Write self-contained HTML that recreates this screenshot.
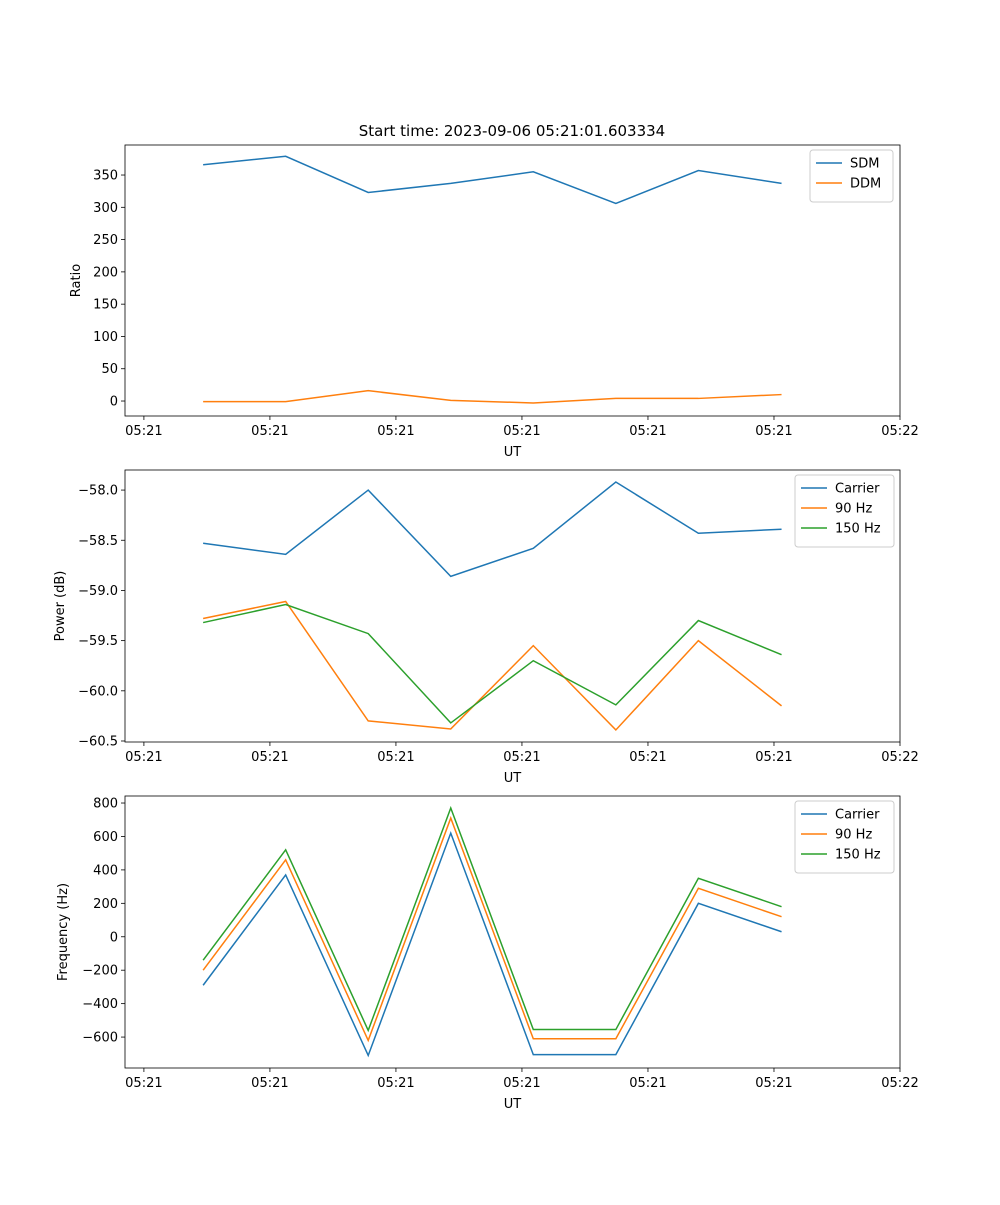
<!DOCTYPE html>
<html><head><meta charset="utf-8"><style>
body{margin:0;background:#fff;font-family:"Liberation Sans","DejaVu Sans",sans-serif}
svg text{font-family:"DejaVu Sans","Liberation Sans",sans-serif;font-size:13px;fill:#000}
</style></head><body>
<svg id="chart" width="1000" height="1200" xmlns="http://www.w3.org/2000/svg"></svg>
<script>
const times=[4.7,11.25,17.8,24.35,30.9,37.45,44.0,50.6];
const xTicks=[0,10,20,30,40,50,60];
const xTickLabels=["05:21","05:21","05:21","05:21","05:21","05:21","05:22"];
const sdm=[366,379,323,337,355,306,357,337];
const ddm=[-1,-1,16,1,-3,4,4,10];
const pCarrier=[-58.53,-58.64,-58.00,-58.86,-58.58,-57.92,-58.43,-58.39];
const p90=[-59.28,-59.11,-60.30,-60.38,-59.55,-60.39,-59.50,-60.15];
const p150=[-59.32,-59.14,-59.43,-60.32,-59.70,-60.14,-59.30,-59.64];
const fCarrier=[-290,370,-710,620,-705,-705,200,30];
const f90=[-200,460,-620,710,-610,-610,290,120];
const f150=[-140,520,-560,770,-555,-555,350,180];
const ratioTicks=[0,50,100,150,200,250,300,350];
const powerTicks=[-60.5,-60.0,-59.5,-59.0,-58.5,-58.0];
const powerLabels=["\u221260.5","\u221260.0","\u221259.5","\u221259.0","\u221258.5","\u221258.0"];
const freqTicks=[-600,-400,-200,0,200,400,600,800];
const freqLabels=["\u2212600","\u2212400","\u2212200","0","200","400","600","800"];

const svg=document.getElementById('chart');
const NS="http://www.w3.org/2000/svg";
function el(tag,attrs,parent){const e=document.createElementNS(NS,tag);for(const k in attrs)e.setAttribute(k,attrs[k]);(parent||svg).appendChild(e);return e;}
const L=125,R=900,xmin=-1.5,xmax=60;
const xs=t=>L+(t-xmin)/(xmax-xmin)*(R-L);
const C1="#1f77b4",C2="#ff7f0e",C3="#2ca02c";

function panel(name,top,bot,ymin,ymax,yt,ytl,ylabel,series,legW,legX){
  const g=el('g',{});
  
  
  const ys=v=>bot-(v-ymin)/(ymax-ymin)*(bot-top);
  xTicks.forEach((t,i)=>{const x=xs(t);
    const l=el('line',{x1:x,x2:x,y1:bot,y2:bot+4,stroke:'#000','stroke-width':0.8},g);
    
    const tx=el('text',{x:x,y:bot+19,'text-anchor':'middle'},g);tx.textContent=xTickLabels[i];
    });
  yt.forEach((v,i)=>{const y=ys(v);
    el('line',{x1:L-4,x2:L,y1:y,y2:y,stroke:'#000','stroke-width':0.8},g);
    const tx=el('text',{x:L-7,y:y+4.5,'text-anchor':'end'},g);tx.textContent=ytl[i];
    });
  const xl=el('text',{x:(L+R)/2,y:bot+40,'text-anchor':'middle'},g);xl.textContent='UT';
  
  const yl=el('text',{x:0,y:0,'text-anchor':'middle',transform:`translate(${ylabel[1]},${(top+bot)/2}) rotate(-90)`},g);yl.textContent=ylabel[0];
  
  series.forEach(s=>{
    const p=el('polyline',{points:s.v.map((v,i)=>xs(times[i])+','+ys(v)).join(' '),fill:'none',stroke:s.c,'stroke-width':1.5},g);
    });
  el('rect',{x:L,y:top,width:R-L,height:bot-top,fill:'none',stroke:'#000','stroke-width':0.8},g);
  const lg=el('g',{},g);
  
  el('rect',{x:legX,y:top+5,width:legW,height:series.length*20+12,fill:'#fff',stroke:'#ccc',rx:3},lg);
  series.forEach((s,i)=>{const y=top+18+i*20;
    el('line',{x1:legX+6,x2:legX+32,y1:y,y2:y,stroke:s.c,'stroke-width':1.5},lg);
    const t=el('text',{x:legX+40,y:y+4.5},lg);t.textContent=s.n;
    });
  return ys;
}
const title=el('text',{x:512,y:136,'text-anchor':'middle','font-size':'15'});
title.textContent='Start time: 2023-09-06 05:21:01.603334';
title.setAttribute('style','font-size:15px');

panel('ratio-panel',145,416,-23.2,396.5,ratioTicks,ratioTicks.map(String),['Ratio',80],
  [{n:'SDM',v:sdm,c:C1},{n:'DDM',v:ddm,c:C2}],83,810);
panel('power-panel',470,742,-60.51,-57.80,powerTicks,powerLabels,['Power (dB)',64],
  [{n:'Carrier',v:pCarrier,c:C1},{n:'90 Hz',v:p90,c:C2},{n:'150 Hz',v:p150,c:C3}],99,795);
panel('frequency-panel',796,1068,-785,842,freqTicks,freqLabels,['Frequency (Hz)',67],
  [{n:'Carrier',v:fCarrier,c:C1},{n:'90 Hz',v:f90,c:C2},{n:'150 Hz',v:f150,c:C3}],99,795);
</script>
</body></html>
